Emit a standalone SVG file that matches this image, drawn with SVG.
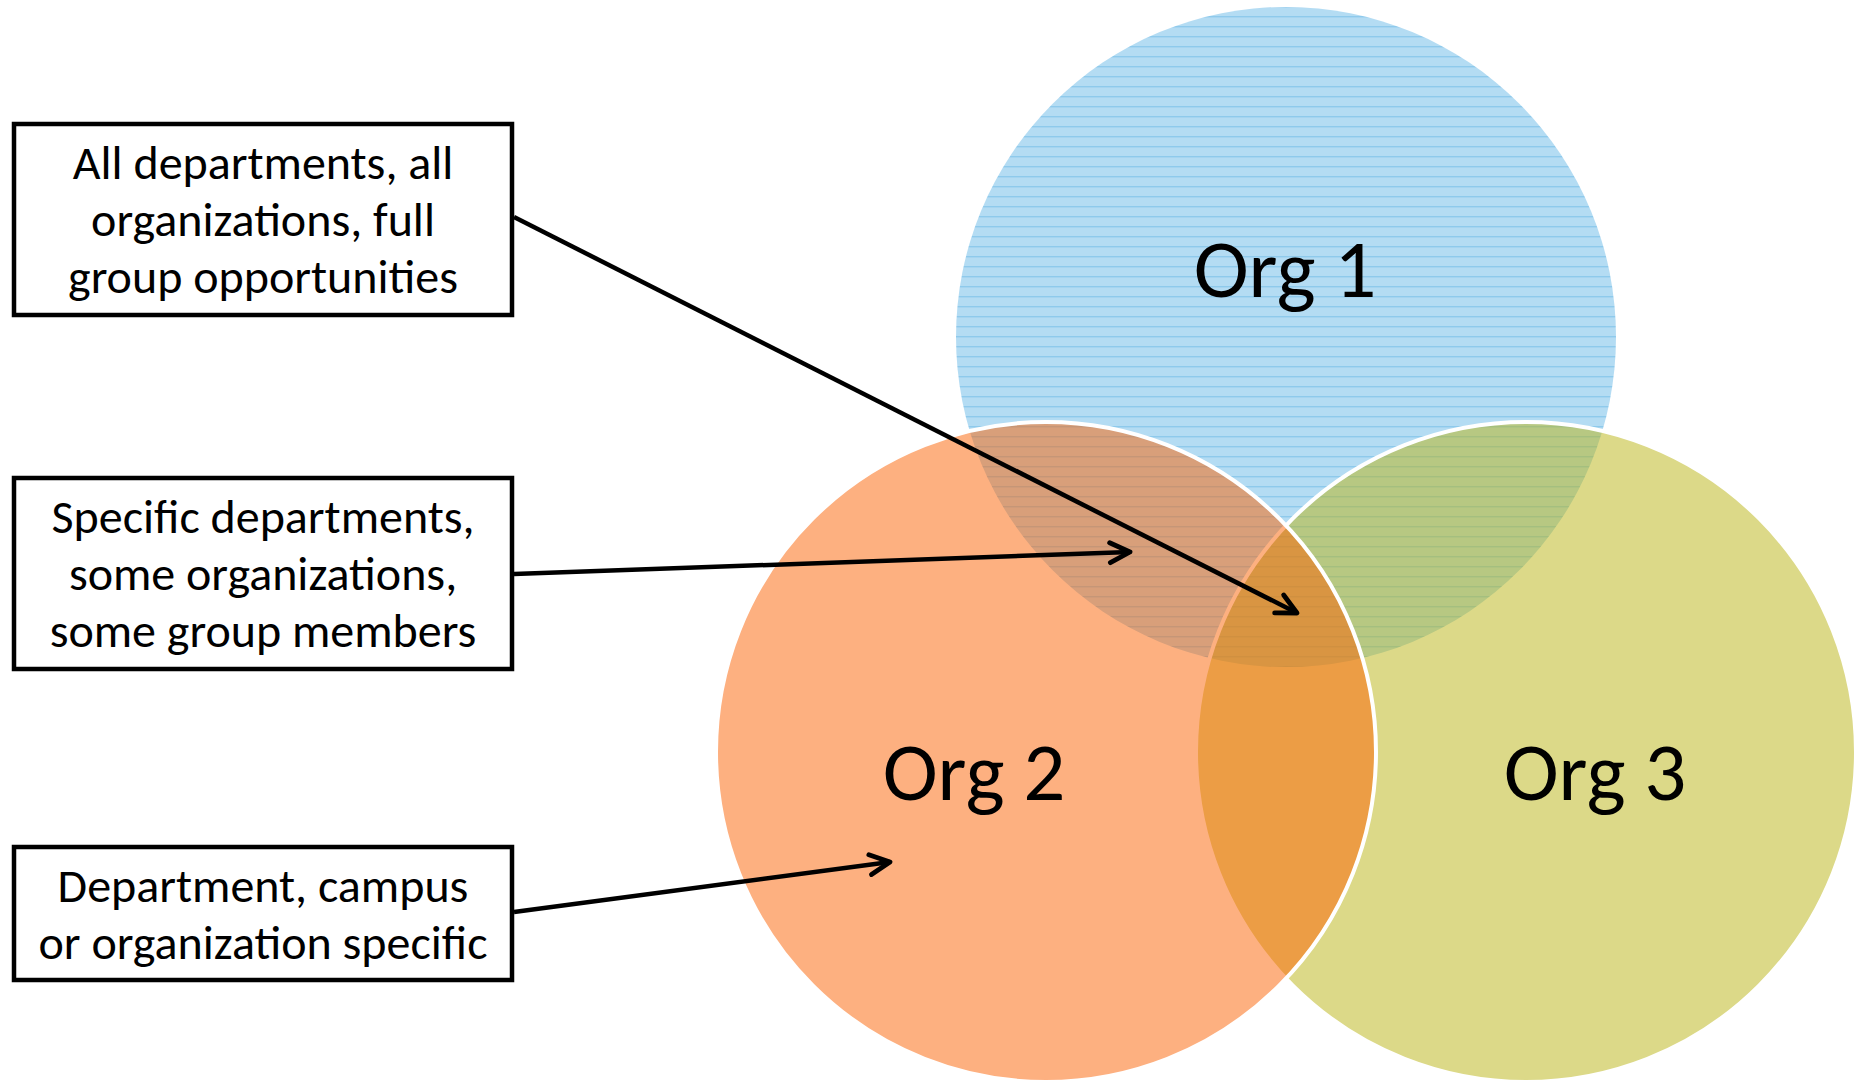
<svg xmlns="http://www.w3.org/2000/svg" width="1862" height="1082" viewBox="0 0 1862 1082">
  <defs>
    <!-- horizontal line texture of the blue circle -->
    <pattern id="hlines" patternUnits="userSpaceOnUse" width="20" height="10">
      <rect x="0" y="0" width="20" height="10" fill="#B4DCF3"/>
      <rect x="0" y="6" width="20" height="1.4" fill="#8ECAEC"/>
    </pattern>
    <marker id="chev" markerUnits="userSpaceOnUse" viewBox="-26 -14 30 28" markerWidth="30" markerHeight="28" refX="0" refY="0" orient="auto">
      <path d="M -20 -10 L 0 0 L -20 10" fill="none" stroke="#000" stroke-width="4.8" stroke-linecap="round" stroke-linejoin="round"/>
    </marker>
    <style>
      .box { fill: #fff; stroke: #000; stroke-width: 4.5; }
      .boxtxt { font-family: Carlito, Lato, "Liberation Sans", sans-serif; font-size: 48px; fill: #000; text-anchor: middle; }
      .orgtxt { font-family: Carlito, Lato, "Liberation Sans", sans-serif; font-size: 83px; fill: #000; text-anchor: middle; }
      .ring { stroke: #fff; stroke-width: 4; }
      .conn { fill: none; stroke: #000; stroke-width: 4.5; marker-end: url(#chev); }
    </style>
  </defs>

  <rect width="1862" height="1082" fill="#fff"/>

  <!-- Venn circles: Org 1 at the bottom, Org 3 above it, Org 2 on top -->
  <g id="org1">
    <circle cx="1286" cy="337" r="330" fill="url(#hlines)"/>
    <text class="orgtxt" x="1285" y="297">Org 1</text>
  </g>
  <g id="org3">
    <circle class="ring" cx="1526" cy="752" r="330" fill="rgb(185,179,17)" fill-opacity="0.5"/>
    <text class="orgtxt" x="1595" y="800">Org 3</text>
  </g>
  <g id="org2">
    <circle class="ring" cx="1046" cy="752" r="330" fill="rgb(251,97,1)" fill-opacity="0.5"/>
    <text class="orgtxt" x="974" y="800">Org 2</text>
  </g>

  <!-- Callout boxes -->
  <g id="box-all">
    <rect class="box" x="14" y="124" width="498" height="191"/>
    <text class="boxtxt" x="263" y="179">All departments, all</text>
    <text class="boxtxt" x="263" y="236">organizations, full</text>
    <text class="boxtxt" x="263" y="293">group opportunities</text>
  </g>
  <g id="box-some">
    <rect class="box" x="14" y="478" width="498" height="191"/>
    <text class="boxtxt" x="263" y="533">Specific departments,</text>
    <text class="boxtxt" x="263" y="590">some organizations,</text>
    <text class="boxtxt" x="263" y="647">some group members</text>
  </g>
  <g id="box-specific">
    <rect class="box" x="14" y="847" width="498" height="133"/>
    <text class="boxtxt" x="263" y="902">Department, campus</text>
    <text class="boxtxt" x="263" y="959">or organization specific</text>
  </g>

  <!-- Connectors from the boxes into the circles -->
  <g id="connectors">
    <line class="conn" x1="514" y1="217" x2="1297" y2="613"/>
    <line class="conn" x1="514" y1="574" x2="1130" y2="552"/>
    <line class="conn" x1="514" y1="912" x2="890" y2="862"/>
  </g>
</svg>
